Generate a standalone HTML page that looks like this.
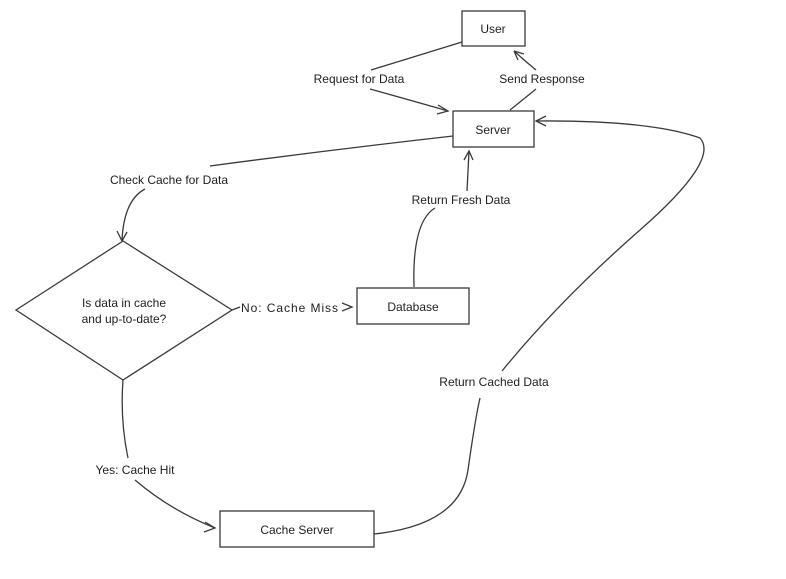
<!DOCTYPE html>
<html><head><meta charset="utf-8"><style>
html,body{margin:0;padding:0;background:#fff;}
svg{display:block;}
text{font-family:"Liberation Sans",sans-serif;font-size:12px;fill:#1e1e1e;}
</style></head><body>
<svg width="786" height="579" viewBox="0 0 786 579" xmlns="http://www.w3.org/2000/svg">
<g fill="none" stroke="#3a3a3a" stroke-width="1.3">
<rect x="462" y="11" width="63" height="35" fill="#fff"/>
<rect x="453" y="111" width="81" height="36" fill="#fff"/>
<rect x="357" y="288" width="112" height="36" fill="#fff"/>
<rect x="220" y="511" width="154" height="36" fill="#fff"/>
<polygon points="16,310 123,241 232,310 123,380" fill="#fff"/>
<path d="M462,42 Q420,55 371,70"/>
<path d="M370,89 Q410,100 448,111"/>
<path d="M438,105 L448,111 L437,114"/>
<path d="M510,110 Q525,98 536,89"/>
<path d="M536,70 Q525,61 514,51"/>
<path d="M514,51 L524,54 M514,51 L518,60"/>
<path d="M453,136 Q330,150 210,166"/>
<path d="M145,189 Q124,200 122,240"/>
<path d="M117,231 L122,241 L127,232"/>
<path d="M414,287 Q412,222 435,208"/>
<path d="M467,191 L469,151"/>
<path d="M464,160 L469,151 L473,160"/>
<path d="M232,310 L240,307"/>
<path d="M342,303 L352,307 L342,311"/>
<path d="M123,380 Q120,420 128,458"/>
<path d="M135,480 Q170,510 215,528"/>
<path d="M205,522 L215,528 L204,532"/>
<path d="M374,534 Q460,525 468,470 Q475,420 480,398"/>
<path d="M502,371 Q560,300 640,230 Q720,160 700,138 Q650,120 536,121"/>
<path d="M546,116 L536,121 L546,126"/>
</g>
<text x="493" y="33" text-anchor="middle">User</text>
<text x="493" y="134" text-anchor="middle">Server</text>
<text x="413" y="311" text-anchor="middle">Database</text>
<text x="297" y="534" text-anchor="middle">Cache Server</text>
<text x="124" y="307" text-anchor="middle">Is data in cache</text>
<text x="124" y="323" text-anchor="middle">and up-to-date?</text>
<text x="359" y="83" text-anchor="middle">Request for Data</text>
<text x="542" y="83" text-anchor="middle">Send Response</text>
<text x="169" y="184" text-anchor="middle">Check Cache for Data</text>
<text x="461" y="204" text-anchor="middle">Return Fresh Data</text>
<text x="241" y="312" textLength="97" lengthAdjust="spacing">No: Cache Miss</text>
<text x="135" y="474" text-anchor="middle">Yes: Cache Hit</text>
<text x="494" y="386" text-anchor="middle">Return Cached Data</text>
</svg>
</body></html>
